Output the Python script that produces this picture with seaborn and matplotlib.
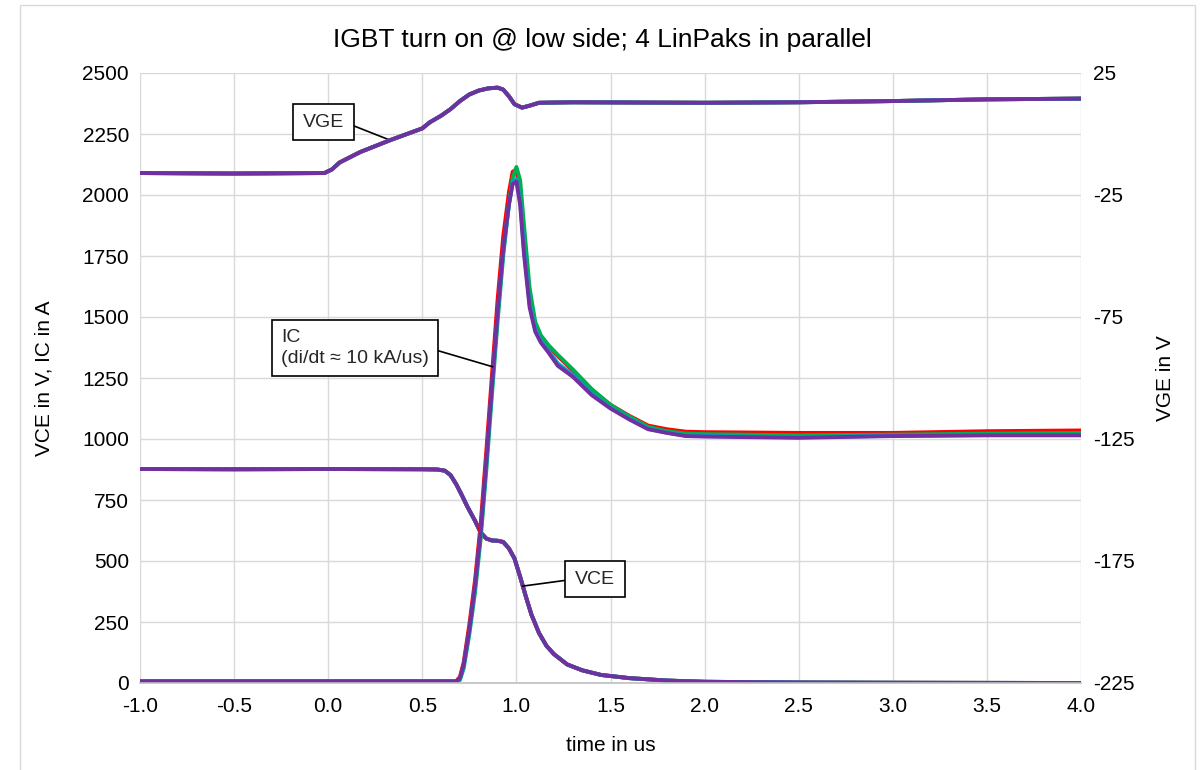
import matplotlib
matplotlib.use("Agg")
import matplotlib.pyplot as plt
import pandas as pd
import seaborn as sns

# channel names and colours (4 LinPaks)
channels = ["LinPak 1", "LinPak 2", "LinPak 3", "LinPak 4"]
colors = ["#FF0000", "#00B050", "#00A3D9", "#7030A0"]

# VGE (right axis, V) - the four traces lie on top of each other
t_vge = [-1.0, -0.5, -0.02, 0.02, 0.06, 0.17, 0.33, 0.5, 0.54, 0.6, 0.65, 0.7, 0.75, 0.8,
         0.85, 0.9, 0.93, 0.96, 0.99, 1.03, 1.07, 1.12, 1.3, 2.0, 2.5, 3.0, 3.5, 4.0]
vge = [-16.0, -16.2, -16.0, -14.5, -11.7, -7.4, -2.5, 2.3, 4.8, 7.5, 10.2, 13.5, 16.2, 17.8,
       18.7, 19.0, 18.2, 15.5, 12.2, 10.8, 11.6, 12.8, 13.0, 12.8, 13.0, 13.5, 14.2, 14.5]

# IC (left axis, A)
t_ic = [-1.0, 0.6, 0.68, 0.70, 0.72, 0.75, 0.78, 0.81, 0.84, 0.87, 0.90, 0.93, 0.96, 0.98,
        1.00, 1.02, 1.04, 1.07, 1.10, 1.13, 1.17, 1.22, 1.3, 1.4, 1.5, 1.6, 1.7, 1.8, 1.9,
        2.0, 2.5, 3.0, 3.5, 4.0]
ic_1 = [8, 8, 8, 25, 85, 240, 420, 650, 950, 1260, 1570, 1830, 2010, 2095,
        2105, 2000, 1800, 1580, 1470, 1420, 1380, 1340, 1280, 1200, 1140, 1095, 1055, 1040, 1030,
        1028, 1025, 1025, 1032, 1035]
ic_2 = [5, 5, 5, 12, 60, 200, 370, 590, 870, 1180, 1480, 1750, 1960, 2070,
        2115, 2060, 1880, 1620, 1480, 1425, 1385, 1345, 1285, 1205, 1140, 1092, 1050, 1032, 1022,
        1020, 1015, 1018, 1022, 1025]
ic_3 = [5, 5, 5, 18, 72, 215, 395, 612, 900, 1210, 1510, 1772, 1960, 2050,
        2065, 1975, 1780, 1555, 1450, 1402, 1362, 1310, 1262, 1185, 1128, 1083, 1042, 1026, 1014,
        1012, 1007, 1013, 1016, 1017]
ic_4 = [5, 5, 5, 20, 75, 220, 400, 620, 910, 1220, 1520, 1780, 1960, 2045,
        2055, 1960, 1760, 1540, 1440, 1395, 1355, 1300, 1255, 1180, 1125, 1080, 1040, 1025, 1012,
        1010, 1005, 1012, 1015, 1015]

# VCE (left axis, V)
t_vce = [-1.0, -0.5, 0.0, 0.5, 0.58, 0.62, 0.65, 0.68, 0.71, 0.74, 0.78, 0.81, 0.84, 0.87,
         0.90, 0.93, 0.96, 0.99, 1.02, 1.05, 1.08, 1.12, 1.16, 1.2, 1.27, 1.35, 1.45, 1.6,
         1.8, 2.0, 2.5, 3.0, 4.0]
vce = [877, 876, 877, 876, 875, 870, 852, 815, 770, 722, 665, 617, 592, 584,
       583, 578, 552, 510, 435, 355, 280, 205, 152, 118, 76, 52, 33, 20,
       10, 5, 2, 1, 0]

x_ticks = [-1.0, -0.5, 0.0, 0.5, 1.0, 1.5, 2.0, 2.5, 3.0, 3.5, 4.0]
x_labels = ["-1.0", "-0.5", "0.0", "0.5", "1.0", "1.5", "2.0", "2.5", "3.0", "3.5", "4.0"]
y_ticks = [0, 250, 500, 750, 1000, 1250, 1500, 1750, 2000, 2250, 2500]
y2_ticks = [-225, -175, -125, -75, -25, 25]
y2_labels = ["-225", "-175", "-125", "-75", "-25", "25"]

ic_df = pd.DataFrame({
    "t": t_ic * 4,
    "val": ic_1 + ic_2 + ic_3 + ic_4,
    "ch": sum([[c] * len(t_ic) for c in channels], []),
})
vce_df = pd.DataFrame({
    "t": t_vce * 4,
    "val": vce * 4,
    "ch": sum([[c] * len(t_vce) for c in channels], []),
})
vge_df = pd.DataFrame({
    "t": t_vge * 4,
    "val": vge * 4,
    "ch": sum([[c] * len(t_vge) for c in channels], []),
})

sns.set_theme(style="white")
plt.rcParams["font.family"] = ["Liberation Sans", "DejaVu Sans"]
plt.rcParams["axes.unicode_minus"] = False

pal = dict(zip(channels, colors))

fig = plt.figure(figsize=(12.04, 7.70), dpi=100)
ax = fig.add_axes([140 / 1204, 1 - 683 / 770, 941 / 1204, 610 / 770])
ax2 = ax.twinx()

for df in [vce_df, ic_df]:
    sns.lineplot(data=df, x="t", y="val", hue="ch", palette=pal, ax=ax, lw=2.8,
                 legend=False, estimator=None, sort=False)
sns.lineplot(data=vge_df, x="t", y="val", hue="ch", palette=pal, ax=ax2, lw=2.8,
             legend=False, estimator=None, sort=False)

ax.set_xlim(-1, 4)
ax.set_ylim(0, 2500)
ax2.set_ylim(-225, 25)
ax.set_xticks(x_ticks, x_labels)
ax.set_yticks(y_ticks, [str(v) for v in y_ticks])
ax2.set_yticks(y2_ticks, y2_labels)

ax.grid(True, color="#D9D9D9", lw=1)
ax.set_axisbelow(True)
for a in [ax, ax2]:
    for s in a.spines.values():
        s.set_visible(False)
    a.tick_params(length=0, labelsize=15, colors="black")
ax.spines["bottom"].set_visible(True)
ax.spines["bottom"].set_color("#BFBFBF")
ax.spines["bottom"].set_linewidth(1.2)
ax.tick_params(axis="x", pad=10)
ax.tick_params(axis="y", pad=8)
ax2.tick_params(axis="y", pad=9)

ax.set_xlabel("time in us", fontsize=15, color="black")
ax.set_ylabel("VCE in V, IC in A", fontsize=15, color="black")
ax2.set_ylabel("VGE in V", fontsize=15, color="black", rotation=90)
ax.xaxis.set_label_coords(0.5, -0.087)
ax.yaxis.set_label_coords(-0.092, 0.5)
ax2.yaxis.set_label_coords(1.080, 0.5)

fig.text(0.5, 1 - 47 / 770, "IGBT turn on @ low side; 4 LinPaks in parallel",
         ha="center", va="baseline", fontsize=19, color="black")

box = dict(boxstyle="square,pad=0.5", fc="white", ec="black", lw=1.2)
line = dict(arrowstyle="-", color="black", lw=1.2, shrinkA=0, shrinkB=0)
ax.annotate("VGE", xy=(0.328, 2225), xytext=(-0.025, 2299), fontsize=14,
            ha="center", va="center", bbox=box,
            arrowprops=dict(line, relpos=(1, 0.5)))
ax.annotate("IC\n(di/dt \u2248 10 kA/us)", xy=(0.874, 1296),
            xytext=(0.142, 1373), fontsize=14, ha="center", va="center",
            multialignment="left", linespacing=1.3,
            bbox=dict(box, boxstyle="square,pad=0.45"),
            arrowprops=dict(line, relpos=(1, 0.5)))
ax.annotate("VCE", xy=(1.033, 397), xytext=(1.418, 426), fontsize=14,
            ha="center", va="center", bbox=box,
            arrowprops=dict(line, relpos=(0, 0.5)))

fig.add_artist(plt.Rectangle((20 / 1204, -0.01), 1175 / 1204, 1 - 5 / 770 + 0.01,
                             transform=fig.transFigure, fill=False, ec="#D9D9D9", lw=1))

fig.savefig("out.png", dpi=100)
